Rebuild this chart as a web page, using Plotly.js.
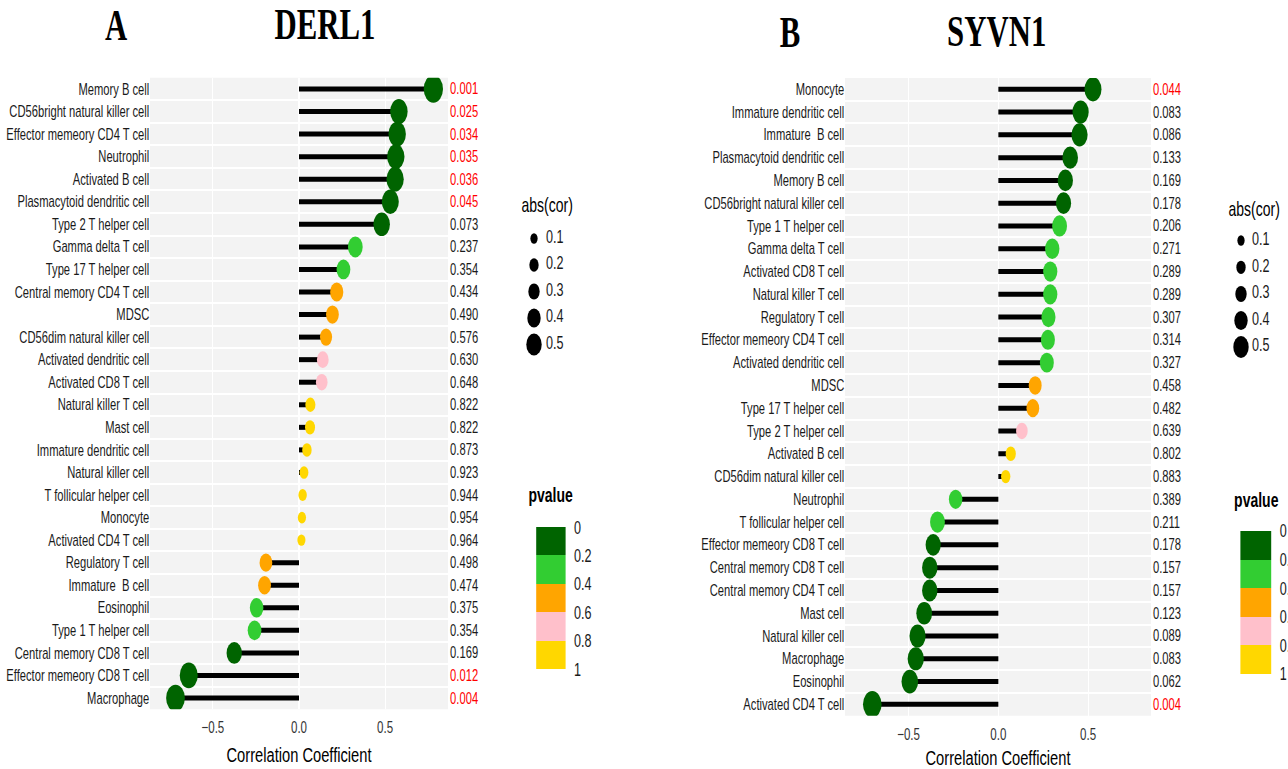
<!DOCTYPE html>
<html>
<head>
<meta charset="utf-8">
<script src="https://cdn.plot.ly/plotly-3.0.1.min.js"></script>
<style>
html,body{margin:0;padding:0;background:#fff;}
#wrap{width:1288px;height:769px;overflow:hidden;position:relative;}
#chart{width:1840px;height:769px;transform:scaleX(0.7);transform-origin:0 0;}
</style>
</head>
<body>
<div id="wrap"><div id="chart"></div></div>
<script>
// ---------------- DATA ----------------
const derlCells = ["Memory B cell","CD56bright natural killer cell","Effector memeory CD4 T cell","Neutrophil","Activated B cell","Plasmacytoid dendritic cell","Type 2 T helper cell","Gamma delta T cell","Type 17 T helper cell","Central memory CD4 T cell","MDSC","CD56dim natural killer cell","Activated dendritic cell","Activated CD8 T cell","Natural killer T cell","Mast cell","Immature dendritic cell","Natural killer cell","T follicular helper cell","Monocyte","Activated CD4 T cell","Regulatory T cell","Immature  B cell","Eosinophil","Type 1 T helper cell","Central memory CD8 T cell","Effector memeory CD8 T cell","Macrophage"];
const derlCor = [0.78,0.58,0.57,0.562,0.558,0.53,0.48,0.327,0.258,0.219,0.194,0.157,0.138,0.132,0.066,0.064,0.046,0.029,0.021,0.017,0.014,-0.192,-0.2,-0.246,-0.258,-0.376,-0.64,-0.717];
const derlP = [0.001,0.025,0.034,0.035,0.036,0.045,0.073,0.237,0.354,0.434,0.490,0.576,0.630,0.648,0.822,0.822,0.873,0.923,0.944,0.954,0.964,0.498,0.474,0.375,0.354,0.169,0.012,0.004];

const syvnCells = ["Monocyte","Immature dendritic cell","Immature  B cell","Plasmacytoid dendritic cell","Memory B cell","CD56bright natural killer cell","Type 1 T helper cell","Gamma delta T cell","Activated CD8 T cell","Natural killer T cell","Regulatory T cell","Effector memeory CD4 T cell","Activated dendritic cell","MDSC","Type 17 T helper cell","Type 2 T helper cell","Activated B cell","CD56dim natural killer cell","Neutrophil","T follicular helper cell","Effector memeory CD8 T cell","Central memory CD8 T cell","Central memory CD4 T cell","Mast cell","Natural killer cell","Macrophage","Eosinophil","Activated CD4 T cell"];
const syvnCor = [0.527,0.458,0.452,0.40,0.373,0.363,0.341,0.30,0.289,0.289,0.279,0.276,0.27,0.205,0.192,0.131,0.069,0.041,-0.238,-0.339,-0.363,-0.382,-0.382,-0.413,-0.45,-0.46,-0.493,-0.702];
const syvnP = [0.044,0.083,0.086,0.133,0.169,0.178,0.206,0.271,0.289,0.289,0.307,0.314,0.327,0.458,0.482,0.639,0.802,0.883,0.389,0.211,0.178,0.157,0.157,0.123,0.089,0.083,0.062,0.004];

const sizeBreaks = [0.1,0.2,0.3,0.4,0.5];
const pBreaks = [0,0.2,0.4,0.6,0.8,1];
const binColors = ["#006400","#32CD32","#FFA500","#FFC0CB","#FFD700"];
const geneTitles = ["DERL1","SYVN1"];
const panelLetters = ["A","B"];

// ---------------- STYLE / LAYOUT ----------------
const S = 0.7, W = 1288 / S, H = 769;
const FONT = "Liberation Sans, Arial, sans-serif";
const SERIF = "Liberation Serif, Times New Roman, serif";
const px = v => v / S / W;          // final x pixel -> paper
const py = v => 1 - v / H;          // final y pixel -> paper
const colorOf = p => binColors[Math.min(4, Math.floor(p / 0.2))];
const dotSize = r => 9 + 21 * Math.sqrt(Math.abs(r));
const legSize = v => 7.5 + 29 * v;

function panelTraces(cells, cor, p, xa, ya) {
  const sx = [], sy = [];
  cells.forEach((c, i) => { sx.push(0, cor[i], null); sy.push(c, c, null); });
  return [
    {type:"scatter", mode:"lines", x:sx, y:sy, xaxis:xa, yaxis:ya,
     line:{color:"#000", width:5}, hoverinfo:"skip", showlegend:false},
    {type:"scatter", mode:"markers", x:cor, y:cells, xaxis:xa, yaxis:ya,
     marker:{size:cor.map(dotSize), color:p.map(colorOf), line:{width:0}, opacity:1},
     showlegend:false}
  ];
}

const traces = [
  ...panelTraces(derlCells, derlCor, derlP, "x", "y"),
  ...panelTraces(syvnCells, syvnCor, syvnP, "x2", "y2")
];

// legends on an invisible full-figure axis (x3/y3, pixel units of the unscaled page)
const legends = [
  {dotX:534, labX:546, ys:[238.5,265,291.5,318,344.5], titleX:547, titleY:205, cbX:536, cbY:527.3, cbLen:142, cbTh:29.5, pTitleX:550.5, pTitleY:495},
  {dotX:1241, labX:1252, ys:[240.5,267.3,294,320.5,347], titleX:1254, titleY:209, cbX:1240.7, cbY:531, cbLen:143, cbTh:31, pTitleX:1256, pTitleY:500}
];
const cscale = [];
for (let k = 0; k < 5; k++) {
  const col = binColors[4 - k];
  cscale.push([k / 5, col], [(k + 1) / 5, col]);
}
const annotations = [];
legends.forEach((L, j) => {
  traces.push({type:"scatter", mode:"markers", x:sizeBreaks.map(() => L.dotX / S), y:L.ys,
    xaxis:"x3", yaxis:"y3", marker:{size:sizeBreaks.map(legSize), color:"#000", opacity:1, line:{width:0}},
    hoverinfo:"skip", showlegend:false});
  traces.push({type:"scatter", mode:"text", x:sizeBreaks.map(() => L.labX / S), y:L.ys,
    text:sizeBreaks.map(v => v.toFixed(1)), textposition:"middle right",
    textfont:{family:FONT, size:18, color:"#1a1a1a"},
    xaxis:"x3", yaxis:"y3", hoverinfo:"skip", showlegend:false});
  traces.push({type:"scatter", mode:"markers", x:[-500], y:[-500], xaxis:"x3", yaxis:"y3",
    hoverinfo:"skip", showlegend:false,
    marker:{color:[0], cmin:-1, cmax:0, colorscale:cscale, showscale:true,
      colorbar:{x:px(L.cbX), xanchor:"left", y:py(L.cbY), yanchor:"top",
        lenmode:"pixels", len:L.cbLen, thicknessmode:"pixels", thickness:L.cbTh / S,
        xpad:0, ypad:0, outlinewidth:0, ticks:"outside", ticklen:9, tickcolor:"rgba(0,0,0,0)",
        tickvals:pBreaks.map(v => -v), ticktext:pBreaks.map(v => String(v)),
        tickfont:{family:FONT, size:18, color:"#1a1a1a"}}}});
  annotations.push({xref:"paper", yref:"paper", x:px(L.titleX), y:py(L.titleY), xanchor:"center", yanchor:"middle",
    text:"abs(cor)", showarrow:false, font:{family:FONT, size:20, color:"#000"}});
  annotations.push({xref:"paper", yref:"paper", x:px(L.pTitleX), y:py(L.pTitleY), xanchor:"center", yanchor:"middle",
    text:"<b>pvalue</b>", showarrow:false, font:{family:FONT, size:20, color:"#000"}});
});

// p-value text at the right of each panel
[[derlCells, derlP, "x", "y"], [syvnCells, syvnP, "x2", "y2"]].forEach(([cells, p, xa, ya]) => {
  cells.forEach((c, i) => annotations.push({
    xref:xa + " domain", yref:ya, x:1, y:c, xanchor:"left", yanchor:"middle", xshift:1,
    text:p[i].toFixed(3), showarrow:false,
    font:{family:FONT, size:16, color:p[i] < 0.05 ? "#FF0000" : "#1a1a1a"}}));
});

// panel titles
[[116, 25, panelLetters[0]], [325, 24, geneTitles[0]], [790, 32.5, panelLetters[1]], [997, 32, geneTitles[1]]]
  .forEach(([x, y, t]) => annotations.push({xref:"paper", yref:"paper", x:px(x), y:py(y),
    xanchor:"center", yanchor:"middle", text:"<b>" + t + "</b>", showarrow:false,
    font:{family:SERIF, size:44, color:"#000"}}));

function xAxis(dom, range, lblOff, standoff) {
  return {domain:dom, range:range, tickvals:[-0.5, 0, 0.5], tickformat:".1f",
    showgrid:true, gridcolor:"#FFFFFF", gridwidth:1.5, zeroline:false, showline:false, ticks:"",
    ticklabelstandoff:lblOff,
    tickfont:{family:FONT, size:16.5, color:"#333"}, automargin:false, fixedrange:true,
    title:{text:"Correlation Coefficient", font:{family:FONT, size:21, color:"#000"}, standoff:standoff}};
}
function yAxis(dom, cells, anchor) {
  return {domain:dom, type:"category", categoryorder:"array", categoryarray:cells,
    range:[cells.length - 0.5, -0.5], tickson:"boundaries", showgrid:true, gridcolor:"#FFFFFF", gridwidth:2,
    zeroline:false, showline:false, ticks:"", anchor:anchor, automargin:false, fixedrange:true,
    tickfont:{family:FONT, size:16, color:"#1a1a1a"}};
}

const layout = {
  width:W, height:H, margin:{l:0, r:0, t:0, b:0, autoexpand:false},
  paper_bgcolor:"#FFFFFF", plot_bgcolor:"rgba(0,0,0,0)",
  showlegend:false, font:{family:FONT},
  xaxis: Object.assign(xAxis([px(150), px(448)], [-0.865, 0.865], 6, 12), {anchor:"y"}),
  yaxis: yAxis([py(709.3), py(77.7)], derlCells, "x"),
  xaxis2: Object.assign(xAxis([px(845), px(1151)], [-0.854, 0.85], 7, 10), {anchor:"y2"}),
  yaxis2: yAxis([py(715.7), py(77.9)], syvnCells, "x2"),
  xaxis3: {domain:[0, 1], range:[0, W], visible:false, fixedrange:true, anchor:"y3"},
  yaxis3: {domain:[0, 1], range:[H, 0], visible:false, fixedrange:true, anchor:"x3"},
  shapes:[
    {type:"rect", xref:"x domain", yref:"y domain", x0:0, x1:1, y0:0, y1:1, fillcolor:"#F3F3F3", line:{width:0}, layer:"below"},
    {type:"rect", xref:"x2 domain", yref:"y2 domain", x0:0, x1:1, y0:0, y1:1, fillcolor:"#F3F3F3", line:{width:0}, layer:"below"}
  ],
  annotations:annotations
};

Plotly.newPlot("chart", traces, layout, {staticPlot:true, displayModeBar:false});
</script>
</body>
</html>
